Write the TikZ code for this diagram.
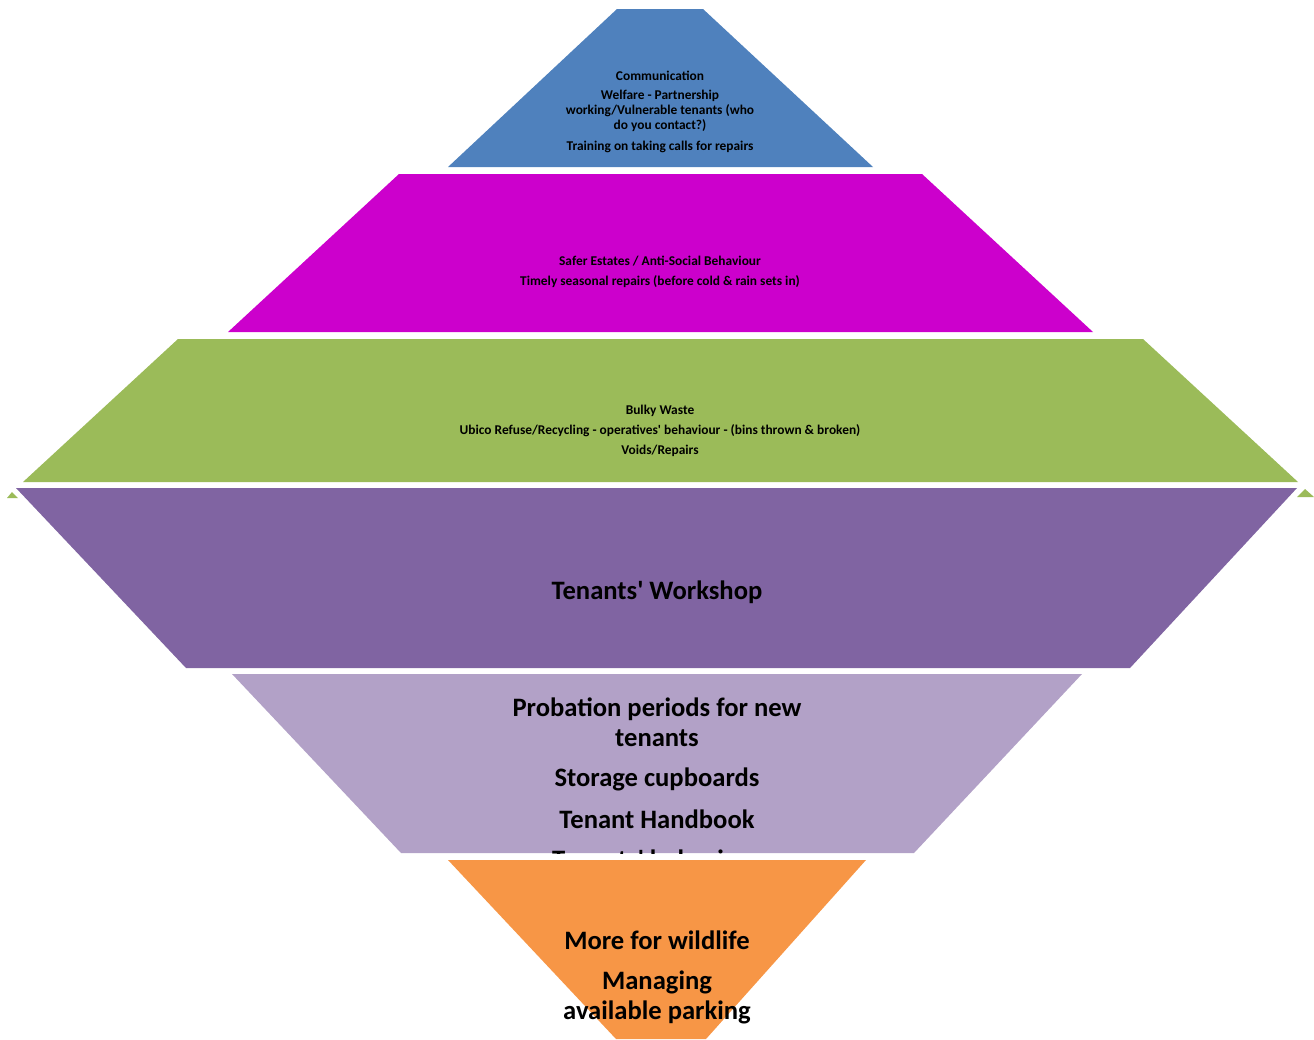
\documentclass[tikz,border=0pt]{standalone}
\usepackage{fontspec}
\setmainfont{Carlito}
\definecolor{cblue}{HTML}{4F81BD}
\definecolor{cmag}{HTML}{CC00CC}
\definecolor{cgreen}{HTML}{9BBB59}
\definecolor{cpurple}{HTML}{8064A2}
\definecolor{clav}{HTML}{B2A1C7}
\definecolor{corange}{HTML}{F79646}
\newcommand{\apos}{\textquotesingle}
\begin{document}
\begin{tikzpicture}[x=1pt,y=-1pt,
  small/.style={font=\fontsize{13.4}{15}\selectfont\bfseries, align=center, inner sep=0pt, text=black},
  big/.style={font=\fontsize{26.6}{30}\selectfont\bfseries, align=center, inner sep=0pt, text=black}]
\useasboundingbox (0,0) rectangle (1314,1039);
% layers
\fill[cblue] (617,9) -- (703,9) -- (873,167) -- (448,167) -- cycle;
\fill[cmag] (399,174) -- (922,174) -- (1093,332) -- (228,332) -- cycle;
\fill[cgreen] (178,339) -- (1143,339) -- (1298,482) -- (23,482) -- cycle;
\fill[cgreen] (7,498) -- (12,492) -- (18,498) -- cycle;
\fill[cgreen] (1297,497) -- (1305,489) -- (1314,497) -- cycle;
\fill[cpurple] (16,488) -- (1297,488) -- (1130,668) -- (186,668) -- cycle;
\fill[clav] (232,674) -- (1082,674) -- (914,853) -- (401,853) -- cycle;
\fill[corange] (448,860) -- (866,860) -- (706,1039) -- (616,1039) -- cycle;
% blue texts
\node[small] (b1) at (660,76) {Communication};
\node[small] (b2) at (660,111) {Welfare - Partnership\\working/Vulnerable tenants (who\\do you contact?)};
\node[small] (b3) at (660,146.5) {Training on taking calls for repairs};
% magenta texts
\node[small] (m1) at (660,261) {Safer Estates / Anti-Social Behaviour};
\node[small] (m2) at (660,282) {Timely seasonal repairs (before cold \& rain sets in)};
% green texts
\node[small] (g1) at (660,411) {Bulky Waste};
\node[small] (g2) at (660,431) {Ubico Refuse/Recycling - operatives\apos\ behaviour - (bins thrown \& broken)};
\node[small] (g3) at (660,451) {Voids/Repairs};
% purple
\node[big] (p1) at (657,592) {Tenants\apos\ Workshop};
% lavender
\node[big] (l1) at (657,722.5) {Probation periods for new\\tenants};
\node[big] (l2) at (657,779) {Storage cupboards};
\node[big] (l3) at (657,819) {Tenant Handbook};
\begin{scope}
\clip (0,0) rectangle (1314,853);
\node[big] (l4) at (657,859) {Tenants\apos\ behaviour};
\end{scope}
% orange
\node[big] (o1) at (657,940) {More for wildlife};
\node[big] (o2) at (657,997.5) {Managing\\available parking};
\end{tikzpicture}
\end{document}
